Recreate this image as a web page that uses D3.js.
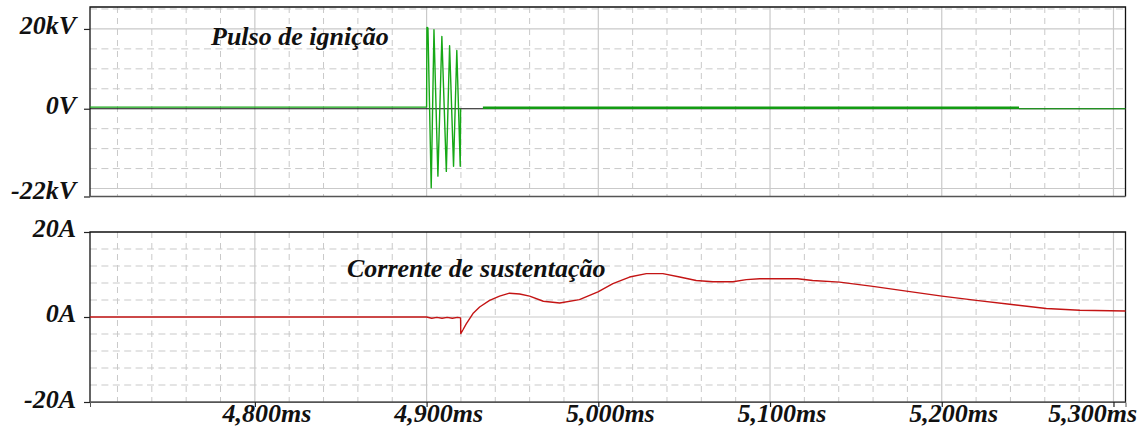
<!DOCTYPE html>
<html><head><meta charset="utf-8">
<script src="https://cdn.jsdelivr.net/npm/d3@7"></script>
<style>
html,body{margin:0;padding:0;background:#fff;}
svg{display:block;}
text{font-family:"Liberation Serif","Times New Roman",serif;font-weight:bold;font-style:italic;fill:#111;}
</style></head>
<body>
<svg id="chart" width="1146" height="430"></svg>
<script>
// ---------- data ----------
const xTicks = [4800, 4900, 5000, 5100, 5200, 5300];           // ms
const vTickValues = [-22, 0, 20];
const vTickLabels = ["-22kV", "0V", "20kV"];
const iTickValues = [-20, 0, 20];
const iTickLabels = ["-20A", "0A", "20A"];
const titleVoltage = "Pulso de ignição";
const titleCurrent = "Corrente de sustentação";

// ignition pulse voltage (kV) vs time (ms)
const voltTime = [4704, 4900, 4900.2, 4900.8, 4902.7, 4904.3, 4906.6, 4908.9, 4911.5, 4913.4, 4915.7, 4917.6, 4919.6, 4919.8];
const voltKV   = [0.4, 0.4, 20.4, 20.2, -19.8, 19.8, -16.9, 18.1, -15.7, 15.8, -14.4, 14.6, -14.4, 0];
// holding segment after the pulse
const holdTime = [4932.8, 5245.0];
const holdKV   = [0.25, 0.25];
const tailTime = [5245.0, 5307];
const tailKV   = [0.0, 0.0];

// sustaining current (A) vs time (ms)
const curTime = [4704, 4900, 4903, 4906, 4909, 4912, 4915, 4918, 4919.8, 4919.9, 4921.2, 4923.1, 4927, 4930.9, 4936.7, 4942.5, 4948.3, 4954.2, 4960, 4968, 4977.5, 4989, 4999.8, 5008.5, 5018.2, 5028, 5037.6, 5047.4, 5057, 5066.8, 5078.4, 5086.2, 5094, 5116, 5124.8, 5140.5, 5159.9, 5179.4, 5200.1, 5220.1, 5239.5, 5260.9, 5280.3, 5307];
const curA    = [0, 0, -0.3, -0.1, -0.3, -0.1, -0.3, -0.1, -0.2, -3.9, -3.0, -1.6, 0.8, 2.35, 3.9, 4.9, 5.6, 5.4, 4.9, 3.7, 3.3, 4.1, 5.9, 7.85, 9.4, 10.2, 10.2, 9.4, 8.6, 8.3, 8.3, 8.8, 9.0, 9.0, 8.6, 8.2, 7.2, 6.1, 4.9, 3.9, 3.0, 2.0, 1.6, 1.4];

// ---------- layout ----------
const svg = d3.select("#chart");
const L = 90, R = 1125.5;
const top1 = 7, bot1 = 196.5;
const top2 = 232, bot2 = 402;
const FS = 26;

const x = d3.scaleLinear().domain([4704, 5307]).range([L, R]);
const yV = d3.scaleLinear().domain([-22, 25.5]).range([bot1, top1]);
const yI = d3.scaleLinear().domain([-20, 20]).range([bot2, top2]);

const gridCol = "#c9c9c9";
const minorX = d3.range(4720, 5307, 20).filter(t => t % 100 !== 0);

function drawGrid(g, y, yTop, yBot, majors, minors) {
  g.selectAll(".vmin").data(minorX).join("line")
    .attr("x1", d => x(d)).attr("x2", d => x(d)).attr("y1", yTop).attr("y2", yBot)
    .attr("stroke", gridCol).attr("stroke-width", 1).attr("stroke-dasharray", "6,5");
  g.selectAll(".hmin").data(minors).join("line")
    .attr("x1", L).attr("x2", R).attr("y1", d => y(d)).attr("y2", d => y(d))
    .attr("stroke", gridCol).attr("stroke-width", 1).attr("stroke-dasharray", "7,4.4");
  g.selectAll(".vmaj").data(xTicks).join("line")
    .attr("x1", d => x(d)).attr("x2", d => x(d)).attr("y1", yTop).attr("y2", yBot)
    .attr("stroke", gridCol).attr("stroke-width", 1.2);
  g.selectAll(".hmaj").data(majors).join("line")
    .attr("x1", L).attr("x2", R).attr("y1", d => y(d)).attr("y2", d => y(d))
    .attr("stroke", gridCol).attr("stroke-width", 1.2);
}

const g1 = svg.append("g");
drawGrid(g1.append("g"), yV, top1, bot1, [20, -20], d3.range(-20, 26, 5).filter(v => v !== 0 && Math.abs(v) !== 20));
g1.append("line").attr("x1", L).attr("x2", R).attr("y1", yV(0)).attr("y2", yV(0)).attr("stroke", "#111").attr("stroke-width", 1.2);

const g2 = svg.append("g");
drawGrid(g2.append("g"), yI, top2, bot2, [0], d3.range(-16, 20, 4).filter(v => v !== 0));

// frames
function frame(yTop, yBot) {
  svg.append("path").attr("d", `M${L},${yBot}V${yTop}H${R}V${yBot}`).attr("fill", "none").attr("stroke", "#111").attr("stroke-width", 1.3);
  svg.append("line").attr("x1", L).attr("x2", R).attr("y1", yBot).attr("y2", yBot).attr("stroke", "#555").attr("stroke-width", 1.6);
}
frame(top1, bot1);
frame(top2, bot2);

// lines
const lineV = d3.line().x(d => x(d[0])).y(d => yV(d[1]));
const lineI = d3.line().x(d => x(d[0])).y(d => yI(d[1]));
const zip = (a, b) => a.map((t, i) => [t, b[i]]);

svg.append("path").datum(zip(voltTime, voltKV)).attr("d", lineV)
  .attr("fill", "none").attr("stroke", "#16a816").attr("stroke-width", 1.4).attr("stroke-linejoin", "round");
svg.append("path").datum(zip(holdTime, holdKV)).attr("d", lineV)
  .attr("fill", "none").attr("stroke", "#139c13").attr("stroke-width", 2.4);
svg.append("path").datum(zip(tailTime, tailKV)).attr("d", lineV)
  .attr("fill", "none").attr("stroke", "#16a816").attr("stroke-width", 1.2);

svg.append("path").datum(zip(curTime, curA)).attr("d", lineI)
  .attr("fill", "none").attr("stroke", "#c41414").attr("stroke-width", 1.4).attr("stroke-linejoin", "round");

// axes ticks
const axV = d3.axisLeft(yV).tickValues(vTickValues).tickSize(6).tickFormat("");
const gaV = svg.append("g").attr("transform", `translate(${L},0)`).call(axV);
gaV.select(".domain").remove();
const axI = d3.axisLeft(yI).tickValues(iTickValues).tickSize(6).tickFormat("");
const gaI = svg.append("g").attr("transform", `translate(${L},0)`).call(axI);
gaI.select(".domain").remove();
const axX = d3.axisBottom(x).tickValues(xTicks).tickSize(5).tickSizeOuter(5).tickFormat("");
const gaX = svg.append("g").attr("transform", `translate(0,${bot2})`).call(axX);
gaX.select(".domain").attr("stroke", "#555");
svg.selectAll(".tick line").attr("stroke", "#222").attr("stroke-width", 1.2);

// y tick labels
svg.selectAll(".ylv").data(vTickValues).join("text")
  .attr("x", 76).attr("y", d => yV(d) + (d === -22 ? 2 : 5))
  .attr("text-anchor", "end").attr("font-size", FS)
  .text((d, i) => vTickLabels[i]);
svg.selectAll(".yli").data(iTickValues).join("text")
  .attr("x", 76).attr("y", d => yI(d) + (d === -20 ? 5.5 : 4.5))
  .attr("text-anchor", "end").attr("font-size", FS)
  .text((d, i) => iTickLabels[i]);

// x tick labels
const fmt = d3.format(",");
const xl = svg.selectAll(".xl").data(xTicks).join("text")
  .attr("y", 422).attr("text-anchor", "middle").attr("font-size", FS)
  .text(d => fmt(d) + "ms");
xl.attr("x", function (d) {
  const w = this.getComputedTextLength();
  let cx = x(d) + 12;
  if (cx + w / 2 > 1137) cx = 1137 - w / 2;
  return cx;
});

// titles
svg.append("text").attr("x", 211).attr("y", 44.5).attr("font-size", FS).text(titleVoltage);
svg.append("text").attr("x", 347).attr("y", 276.5).attr("font-size", FS).text(titleCurrent);
</script>
</body></html>
